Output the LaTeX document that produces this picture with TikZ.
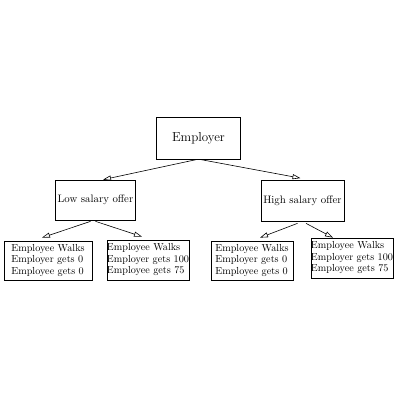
\documentclass[tikz,border=0pt]{standalone}
\usetikzlibrary{arrows.meta,calc}
\begin{document}
\begin{tikzpicture}[x=1pt,y=-1pt,
  box/.style={draw,line width=0.7pt,inner sep=0pt,align=left,font=\fontsize{10.2}{11.5}\selectfont},
  midbox/.style={box,font=\fontsize{10.8}{12}\selectfont},
  topbox/.style={box,font=\fontsize{13}{14}\selectfont},
  link/.style={line width=0.6pt,-{Triangle[open,length=8pt,width=5pt]}}]
\useasboundingbox (0,0) rectangle (400,400);
\node[topbox,minimum width=84pt,minimum height=42pt] (emp) at (198.5,138) {\raisebox{-2pt}{Employer}};
\node[midbox,minimum width=80pt,minimum height=40pt] (low) at (95.5,200) {Low salary offer};
\node[midbox,minimum width=83pt,minimum height=41pt] (high) at (302.5,200.5) {\raisebox{-2pt}{High salary offer}};
\node[box,minimum width=88pt,minimum height=39pt] (ll) at (48,260.5) {Employee Walks\\Employer gets 0\\Employee gets 0};
\node[box,minimum width=82pt,minimum height=40pt] (lr) at (148,260) {Employee Walks\\Employer gets 100\\Employee gets 75};
\node[box,minimum width=82pt,minimum height=39pt] (rl) at (252,260.5) {Employee Walks\\Employer gets 0\\Employee gets 0};
\node[box,minimum width=82pt,minimum height=40pt] (rr) at (352,258) {Employee Walks\\Employer gets 100\\Employee gets 75};
\draw[link] ($(emp.south)+(-1,0)$) -- ($(low.north)+(7.5,0)$);
\draw[link] ($(emp.south)+(1,0)$) -- ($(high.north)+(-2,-1.5)$);
\draw[link] ($(low.south)+(-5,1)$) -- ($(ll.north)+(-6,-3)$);
\draw[link] ($(low.south)+(0,1)$) -- ($(lr.north)+(-6,-3)$);
\draw[link] ($(high.south)+(-5,2)$) -- ($(rl.north)+(8,-3)$);
\draw[link] ($(high.south)+(3.5,2)$) -- ($(rr.north)+(-19,0)$);
\end{tikzpicture}
\end{document}
